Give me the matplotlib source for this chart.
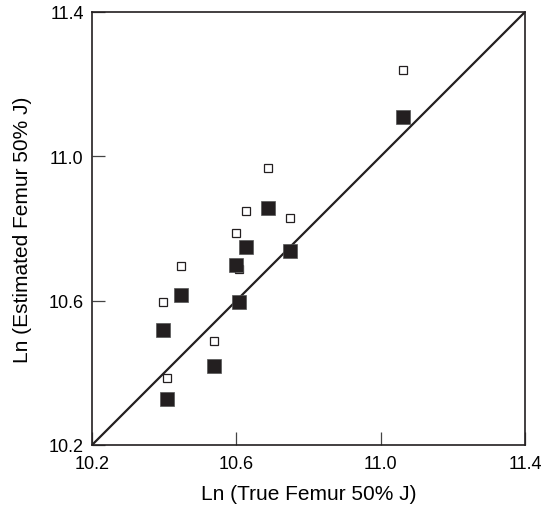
import matplotlib
matplotlib.use("Agg")
import matplotlib.pyplot as plt

# true vs estimated, ln(femur 50% J)
true_filled = [10.689, 10.628, 10.599, 10.750, 10.447, 10.608, 10.398, 10.538, 10.407, 11.062]
est_filled = [10.857, 10.748, 10.699, 10.737, 10.617, 10.597, 10.518, 10.418, 10.327, 11.108]

true_open = [10.689, 10.628, 10.750, 10.599, 10.608, 10.447, 10.396, 10.538, 10.407, 11.062]
est_open = [10.968, 10.848, 10.828, 10.787, 10.688, 10.697, 10.597, 10.487, 10.386, 11.238]

ticks = [10.2, 10.6, 11.0, 11.4]
tick_labels = ["10.2", "10.6", "11.0", "11.4"]

plt.rcParams['font.family'] = ['Liberation Sans', 'DejaVu Sans']
ink = "#231f20"

fig = plt.figure(figsize=(5.55, 5.10), dpi=100)
ax = fig.add_axes([92 / 555, 64 / 510, 433 / 555, 433 / 510])

ax.plot([10.2, 11.4], [10.2, 11.4], color=ink, lw=1.6, zorder=1)

ax.plot(true_open, est_open, ls="none", marker="s", markersize=6.3,
        markerfacecolor="white", markeredgecolor=ink, markeredgewidth=0.9, zorder=2)
ax.plot(true_filled, est_filled, ls="none", marker="s", markersize=10,
        markerfacecolor=ink, markeredgecolor="#555555", markeredgewidth=0.5, zorder=3)

ax.set_xlim(10.2, 11.4)
ax.set_ylim(10.2, 11.4)
ax.set_xticks(ticks)
ax.set_xticklabels(tick_labels)
ax.set_yticks(ticks)
ax.set_yticklabels(tick_labels)
ax.tick_params(direction="in", length=9.5, width=0.9, color="#444444",
               labelsize=13, top=False, right=False)
ax.tick_params(axis="x", pad=7.5)
ax.tick_params(axis="y", pad=6)

for s in ax.spines.values():
    s.set_linewidth(1.2)
    s.set_color(ink)

ax.set_xlabel("Ln (True Femur 50% J)", fontsize=15, labelpad=8)
ax.set_ylabel("Ln (Estimated Femur 50% J)", fontsize=15, labelpad=12)

fig.savefig("out.png", dpi=100)
